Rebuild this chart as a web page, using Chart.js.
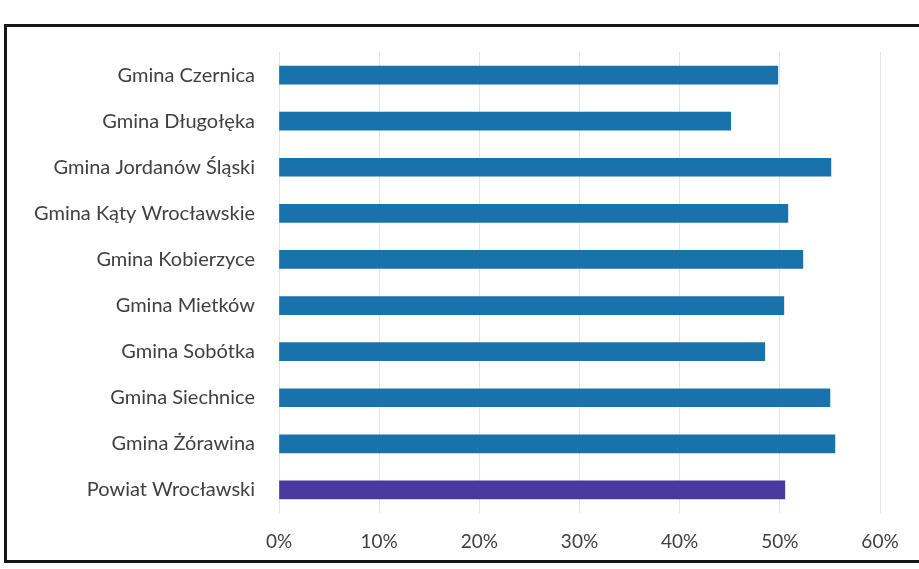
<!DOCTYPE html>
<html><head><meta charset="utf-8">
<script src="https://cdn.jsdelivr.net/npm/chart.js@4/dist/chart.umd.min.js"></script>
<style>
html,body{margin:0;padding:0;background:#fff;}
#wrap{position:relative;width:919px;height:569px;overflow:hidden;}
#frame{position:absolute;left:4px;top:24px;width:960px;height:539px;border:3px solid #151515;box-sizing:border-box;}
canvas{position:absolute;left:0;top:0;}
</style></head>
<body><div id="wrap"><div id="frame"></div><canvas id="c" width="919" height="569"></canvas></div>
<script>
const categories = ["Gmina Czernica","Gmina Długołęka","Gmina Jordanów Śląski","Gmina Kąty Wrocławskie","Gmina Kobierzyce","Gmina Mietków","Gmina Sobótka","Gmina Siechnice","Gmina Żórawina","Powiat Wrocławski"];
const values = [49.8, 45.1, 55.1, 50.8, 52.3, 50.4, 48.5, 55.0, 55.5, 50.5];
const barColors = ["#1a72ad","#1a72ad","#1a72ad","#1a72ad","#1a72ad","#1a72ad","#1a72ad","#1a72ad","#1a72ad","#4a3aa0"];
const xTicks = [0,10,20,30,40,50,60];

new Chart(document.getElementById('c'), {
  type: 'bar',
  data: { labels: categories, datasets: [{ data: values, backgroundColor: barColors, barThickness: 18 }] },
  options: {
    indexAxis: 'y', responsive: false, animation: false,
    layout: { padding: { left: 0, right: 39, top: 52, bottom: 0 } },
    plugins: { legend: { display: false }, tooltip: { enabled: false } },
    scales: {
      x: {
        min: xTicks[0], max: xTicks[xTicks.length-1],
        afterBuildTicks: s => { s.ticks = xTicks.map(v => ({ value: v })); },
        afterFit: s => { s.height = 56; },
        grid: { color: '#dde5ea', lineWidth: 1, drawTicks: false },
        border: { display: false },
        ticks: { callback: v => v + '%', color: '#404040', font: { family: 'Lato', size: 19 }, padding: 17 }
      },
      y: {
        afterFit: s => { s.width = 279; },
        grid: { display: false },
        border: { display: false },
        ticks: { color: '#404040', font: { family: 'Lato', size: 20 }, padding: 16 }
      }
    }
  }
});
</script></body></html>
